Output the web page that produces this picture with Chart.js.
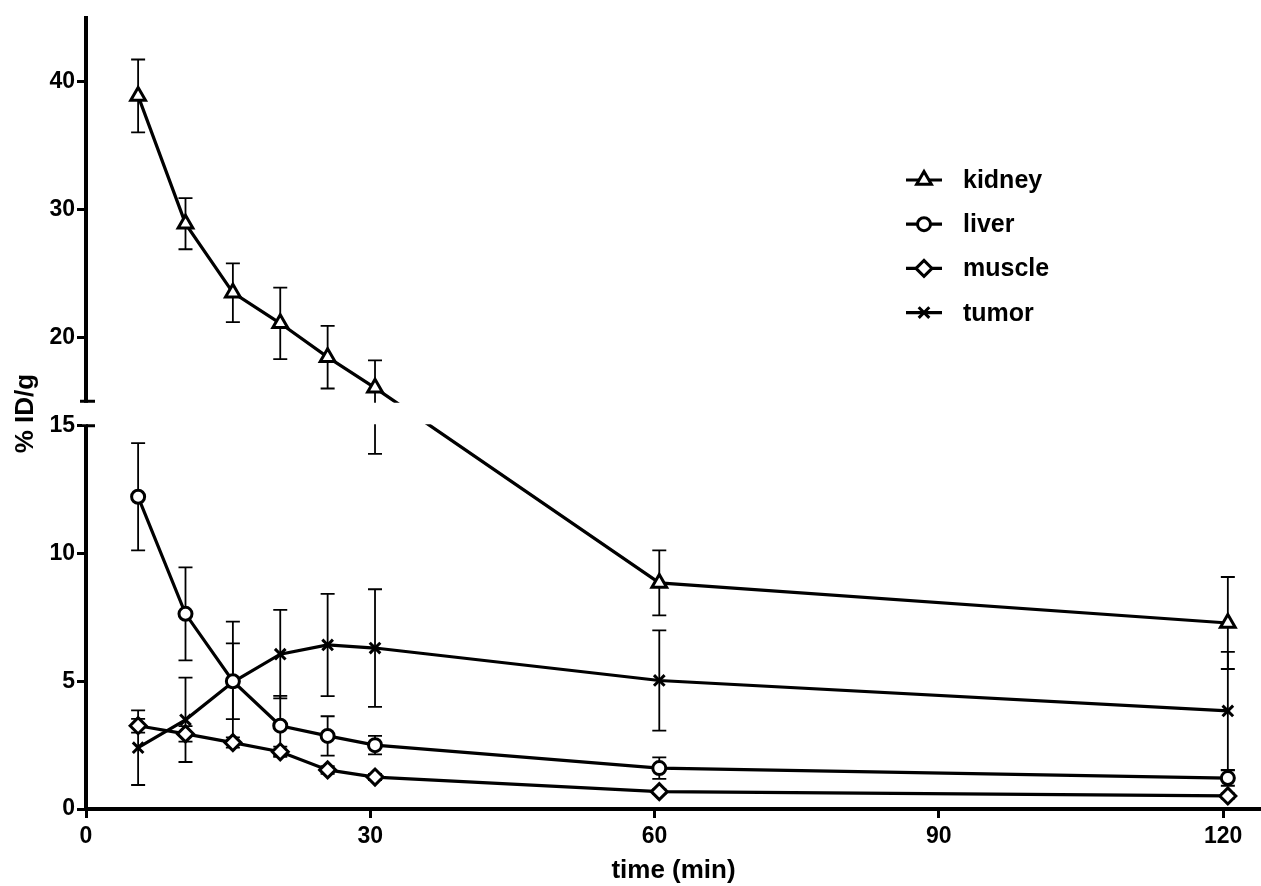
<!DOCTYPE html>
<html>
<head>
<meta charset="utf-8">
<title>% ID/g vs time</title>
<script src="https://cdn.jsdelivr.net/npm/chart.js@4.4.1/dist/chart.umd.min.js"></script>
<style>
  html, body { margin: 0; padding: 0; background: #fff; }
  #biodist { display: block; }
</style>
</head>
<body>
<canvas id="biodist" width="1261" height="886"></canvas>
<script>

//
// Data
//
var times = [5.5, 10.5, 15.5, 20.5, 25.5, 30.5, 60.5, 120.5];

var kidney    = [38.9, 28.9, 23.5, 21.1, 18.45, 16.05, 8.85, 7.28];
var kidneyErr = [2.85, 2.0, 2.3, 2.8, 2.45, 2.15, 1.27, 1.8];

var liver     = [12.22, 7.64, 5.0, 3.26, 2.86, 2.5, 1.6, 1.21];
var liverErr  = [2.1, 1.82, 1.48, 1.17, 0.77, 0.36, 0.42, 0.3];

var muscle    = [3.26, 2.94, 2.6, 2.24, 1.53, 1.25, 0.68, 0.51];
var muscleErr = [0.27, 0.3, 0.2, 0.2, 0.15, 0.12, 0.1, 0.1];

var tumor     = [2.4, 3.49, 4.97, 6.06, 6.42, 6.3, 5.03, 3.84];
var tumorErr  = [1.46, 1.65, 2.36, 1.73, 2.0, 2.3, 1.96, 2.31];

var xTicks = [0, 30, 60, 90, 120];
var yTicks = [0, 5, 10, 15, 20, 30, 40];

// y axis is broken at 15: 0-15 lower half, 15-45 upper half
var breakAt = 15;
var breakGap = 24.5;

var fontFamily = "'Liberation Sans', Arial, Helvetica, sans-serif";
Chart.defaults.font.family = fontFamily;
Chart.defaults.font.weight = 'bold';
Chart.defaults.color = '#000';

//
// Broken linear scale
//
class BrokenScale extends Chart.LinearScale {
  segment() {
    return (this.bottom - this.top - breakGap) / 2;
  }
  getPixelForValue(value) {
    if (value === null || isNaN(value)) return NaN;
    var seg = this.segment();
    if (value <= breakAt) {
      return this.bottom - (value - this.min) / (breakAt - this.min) * seg;
    }
    return this.top + (this.max - value) / (this.max - breakAt) * seg;
  }
  getValueForPixel(pixel) {
    var seg = this.segment();
    if (pixel >= this.bottom - seg) {
      return this.min + (this.bottom - pixel) / seg * (breakAt - this.min);
    }
    return this.max - (pixel - this.top) / seg * (this.max - breakAt);
  }
}
BrokenScale.id = 'broken';
BrokenScale.defaults = Chart.LinearScale.defaults;
Chart.register(BrokenScale);

function series(label, values, errors, style, radius) {
  return {
    label: label,
    data: times.map(function (t, i) { return { x: t, y: values[i] }; }),
    errors: errors,
    borderColor: '#000',
    borderWidth: 3.2,
    pointStyle: style,
    pointRadius: radius,
    pointBorderWidth: 3,
    pointBackgroundColor: '#fff',
    pointBorderColor: '#000',
    tension: 0,
    fill: false
  };
}

//
// Plugins
//
var errorBars = {
  id: 'errorBars',
  beforeDatasetsDraw: function (chart) {
    var ctx = chart.ctx, xs = chart.scales.x, ys = chart.scales.y;
    ctx.save();
    ctx.strokeStyle = '#000';
    ctx.lineWidth = 1.8;
    chart.data.datasets.forEach(function (ds) {
      ds.data.forEach(function (p, i) {
        var e = ds.errors[i];
        var px = xs.getPixelForValue(p.x);
        var top = ys.getPixelForValue(p.y + e);
        var bot = ys.getPixelForValue(p.y - e);
        ctx.beginPath();
        ctx.moveTo(px, top); ctx.lineTo(px, bot);
        ctx.moveTo(px - 7, top); ctx.lineTo(px + 7, top);
        ctx.moveTo(px - 7, bot); ctx.lineTo(px + 7, bot);
        ctx.stroke();
      });
    });
    ctx.restore();
  }
};

var axisBreak = {
  id: 'axisBreak',
  afterDatasetsDraw: function (chart) {
    var ctx = chart.ctx, ys = chart.scales.y, area = chart.chartArea;
    var upper = ys.top + ys.segment();
    var lower = upper + breakGap;
    ctx.save();
    ctx.fillStyle = '#fff';
    ctx.fillRect(area.left - 4, upper + 1.5, area.right - area.left + 4, lower - upper - 3);
    ctx.strokeStyle = '#000';
    ctx.lineWidth = 3;
    ctx.beginPath();
    ctx.moveTo(area.left - 6, upper); ctx.lineTo(area.left + 9, upper);
    ctx.moveTo(area.left, lower); ctx.lineTo(area.left + 9, lower);
    ctx.stroke();
    ctx.restore();
  }
};

var sideLegend = {
  id: 'sideLegend',
  afterDraw: function (chart) {
    var ctx = chart.ctx;
    ctx.save();
    chart.data.datasets.forEach(function (ds, i) {
      var y = 180 + i * 44.2;
      ctx.strokeStyle = '#000';
      ctx.lineWidth = ds.borderWidth;
      ctx.beginPath();
      ctx.moveTo(906, y); ctx.lineTo(942, y);
      ctx.stroke();
      if (Chart.helpers && Chart.helpers.drawPoint) {
        ctx.fillStyle = '#fff';
        ctx.lineWidth = ds.pointBorderWidth;
        Chart.helpers.drawPoint(ctx, {
          pointStyle: ds.pointStyle, radius: ds.pointRadius,
          rotation: 0, borderWidth: ds.pointBorderWidth
        }, 924, y);
      }
      ctx.fillStyle = '#000';
      ctx.font = 'bold 25px ' + fontFamily;
      ctx.textAlign = 'left';
      ctx.textBaseline = 'alphabetic';
      ctx.fillText(ds.label, 963, y + 8);
    });
    ctx.restore();
  }
};

//
// Chart
//
var ctx = document.getElementById('biodist').getContext('2d');
var chart = new Chart(ctx, {
  type: 'line',
  data: {
    datasets: [
      series('kidney', kidney, kidneyErr, 'triangle', 8.5),
      series('liver', liver, liverErr, 'circle', 6.5),
      series('muscle', muscle, muscleErr, 'rectRot', 8),
      series('tumor', tumor, tumorErr, 'crossRot', 7.5)
    ]
  },
  options: {
    responsive: false,
    animation: false,
    devicePixelRatio: 1,
    layout: { autoPadding: false, padding: { top: 18, left: 0, right: 0, bottom: 0 } },
    plugins: {
      legend: { display: false },
      tooltip: { enabled: false }
    },
    scales: {
      x: {
        type: 'linear',
        min: 0,
        max: 124,
        afterBuildTicks: function (s) { s.ticks = xTicks.map(function (v) { return { value: v }; }); },
        afterFit: function (s) { s.height = 77; s.paddingLeft = 0; s.paddingRight = 0; },
        grid: { drawOnChartArea: false, tickLength: 9, tickWidth: 3, tickColor: '#000', lineWidth: 3, color: '#000' },
        border: { width: 4, color: '#000' },
        ticks: { font: { size: 23, weight: 'bold' }, color: '#000', padding: 5, autoSkip: false, maxRotation: 0 },
        title: { display: true, text: 'time (min)', font: { size: 26, weight: 'bold' }, color: '#000', padding: { top: 0, bottom: 0 } }
      },
      y: {
        type: 'broken',
        min: 0,
        max: 45,
        afterBuildTicks: function (s) { s.ticks = yTicks.map(function (v) { return { value: v }; }); },
        afterFit: function (s) { s.width = 86; },
        grid: { drawOnChartArea: false, tickLength: 9, tickWidth: 3, tickColor: '#000', lineWidth: 3, color: '#000' },
        border: { width: 4, color: '#000' },
        ticks: { font: { size: 23, weight: 'bold' }, color: '#000', padding: 2, autoSkip: false },
        title: { display: true, text: '% ID/g', font: { size: 26, weight: 'bold' }, color: '#000', padding: { top: 10, bottom: 0 } }
      }
    }
  },
  plugins: [errorBars, axisBreak, sideLegend]
});

</script>
</body>
</html>
